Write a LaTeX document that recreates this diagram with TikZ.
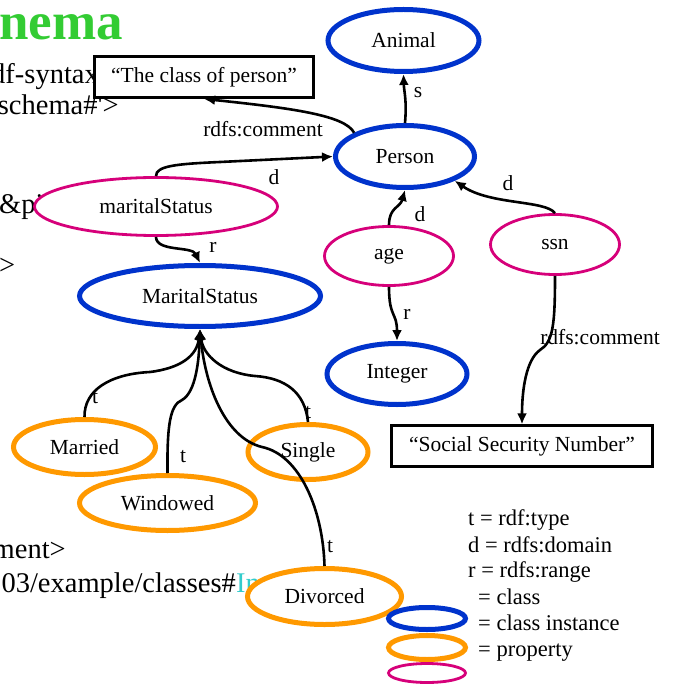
\documentclass[tikz,border=0pt]{standalone}
\usepackage{fontspec}
\setmainfont{Liberation Serif}
\newfontfamily\slidefam{Liberation Serif}
\usetikzlibrary{shapes.geometric,arrows.meta}

\definecolor{clsblue}{RGB}{0,51,204}
\definecolor{propmag}{RGB}{214,0,122}
\definecolor{instorange}{RGB}{255,153,0}
\definecolor{titlegreen}{RGB}{51,204,51}
\definecolor{linkcyan}{RGB}{51,204,204}

\newcommand\nodefont{\fontsize{21.5}{24}\selectfont}
\newcommand\slidefont{\slidefam\fontsize{28.5}{32}\selectfont}
\newcommand\legendfont{\fontsize{22.5}{26}\selectfont}

\begin{document}
\begin{tikzpicture}[x=1pt,y=-1pt,
  oval/.style n args={3}{ellipse, draw=#1, fill=white, inner sep=0pt,
    minimum width=#2, minimum height=#3, font=\nodefont},
  cls/.style 2 args={oval={clsblue}{#1}{#2}, line width=5pt},
  inst/.style 2 args={oval={instorange}{#1}{#2}, line width=5pt},
  prop/.style 2 args={oval={propmag}{#1}{#2}, line width=2.8pt},
  textbox/.style 2 args={rectangle, draw=black, fill=white, line width=2.8pt,
    inner sep=0pt, minimum width=#1, minimum height=#2, font=\nodefont},
  arr/.style={draw=black, line width=2.6pt, -{Latex[length=11pt,width=10pt]}},
  lbl/.style={font=\nodefont, inner sep=0pt},
  slide/.style={font=\slidefont, inner sep=0pt},
  lgd/.style={anchor=base west, font=\legendfont, inner sep=0pt}]

\useasboundingbox (0,0) rectangle (675,684);
\clip (0,0) rectangle (675,684);
\fill[white] (0,0) rectangle (675,684);

% slide text lying underneath the diagram
\node[anchor=base east, inner sep=0pt, text=titlegreen,
  font=\slidefam\bfseries\fontsize{53}{60}\selectfont] (title) at (123,40) {nema};
\node[slide, anchor=base west] (line1) at (-9,84) {df-syntax-ns\#'};
\node[slide, anchor=base east] (line2) at (119,115) {schema\#'>};
\node[slide, anchor=base west] (line3) at (-1,214) {\&pi;};
\node[slide, anchor=base west] (line4) at (-1,274) {>};
\node[slide, anchor=base east] (line5) at (66,558) {ment>};
\node[slide, anchor=base east] (line6) at (236,592) {03/example/classes\#};
\node[slide, anchor=base west, text=linkcyan] (line7) at (line6.base east) {In};

% classes
\node[cls={151}{62}] (animal) at (403.5,40.5) {Animal};
\node[cls={139}{62}] (person) at (405,156.5) {Person};
\node[cls={241}{61}] (mscls) at (200,296) {MaritalStatus};
\node[cls={140}{61}] (integer) at (397,374) {Integer};

% properties
\node[prop={243}{58}] (mstat) at (156,206.5) {maritalStatus};
\node[prop={129}{59}] (age) at (389,256) {age};
\node[prop={129}{60}] (ssn) at (555,244.5) {ssn};

% class instances
\node[inst={142}{55}] (married) at (84.5,447) {Married};
\node[inst={176}{55}] (windowed) at (167.5,503) {Windowed};
\node[inst={120}{55}] (single) at (308,452) {Single};
\node[inst={154}{56}] (divorced) at (324.5,596.5) {Divorced};

% literal comments
\node[textbox={219}{41}] (cbox) at (204,77) {“The class of person”};
\node[textbox={261}{40.5}] (sbox) at (522,446) {“Social Security Number”};

% connectors
\draw[arr] (person.north) .. controls (407,100) and (404,92) .. (animal.south);
\draw[arr] (person.155) .. controls (345,115) and (290,108) .. (cbox.south);
\draw[arr] (mstat.north) .. controls (156,166) and (175,164) .. (220,162) -- (person.west);
\draw[arr] (mstat.south) .. controls (156,252) and (192,246) .. (mscls.north);
\draw[arr] (age.north) .. controls (389,207) and (400,208) .. (person.south);
\draw[arr] (ssn.north) .. controls (545,200) and (490,205) .. (person.-26);
\draw[arr] (age.south) .. controls (389,318) and (397,312) .. (integer.north);
\draw[arr] (ssn.south) .. controls (555,325) and (553,342) .. (540,350)
  .. controls (526,360) and (522,390) .. (sbox.north);
\draw[arr] (married.north) .. controls (84,390) and (110,374) .. (150,372)
  .. controls (182,368) and (197,355) .. (mscls.south);
\draw[arr] (windowed.north) .. controls (167,425) and (170,405) .. (182,400)
  .. controls (196,392) and (199,360) .. (mscls.south);
\draw[arr] (single.north) .. controls (305,392) and (285,378) .. (255,376)
  .. controls (222,373) and (203,355) .. (mscls.south);
\draw[arr] (divorced.north) .. controls (323,510) and (300,455) .. (262,447)
  .. controls (225,438) and (205,385) .. (mscls.south);

% connector labels
\node[lbl] (ls) at (418,93) {s};
\node[lbl] (lcomment1) at (263,129) {rdfs:comment};
\node[lbl] (ld1) at (274,177) {d};
\node[lbl] (ld2) at (420,214) {d};
\node[lbl] (ld3) at (508,183) {d};
\node[lbl] (lr1) at (213,247) {r};
\node[lbl] (lr2) at (407,314) {r};
\node[lbl] (lcomment2) at (600,337) {rdfs:comment};
\node[lbl] (lt1) at (95,398) {t};
\node[lbl] (lt2) at (183,457) {t};
\node[lbl] (lt3) at (308,413) {t};
\node[lbl] (lt4) at (330,547) {t};

% legend
\node[lgd] (key1) at (468,525) {t = rdf:type};
\node[lgd] (key2) at (468,552) {d = rdfs:domain};
\node[lgd] (key3) at (468,577) {r = rdfs:range};
\node[lgd] (key4) at (478,604) {= class};
\node[lgd] (key5) at (478,630) {= class instance};
\node[lgd] (key6) at (478,656) {= property};
\node[cls={77}{22}] (keycls) at (427,618.5) {};
\node[inst={77}{24}] (keyinst) at (427,647.5) {};
\node[prop={77}{19}] (keyprop) at (427,673) {};
\end{tikzpicture}
\end{document}
